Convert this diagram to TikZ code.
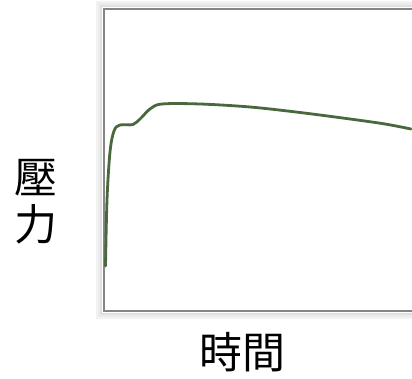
\documentclass[tikz,border=0pt]{standalone}
\usepackage{fontspec}
\newfontfamily\cjk{Noto Sans CJK TC}
\begin{document}
\begin{tikzpicture}[x=1pt,y=-1pt,
  frameline/.style={draw=black!48, line width=1.6pt},
  shadowline/.style={draw=black!25, line width=#1, opacity=0.25},
  curve/.style={draw=green!25!black!75!gray, color={rgb,255:red,74;green,104;blue,62}, line width=2.8pt, line cap=round, line join=round},
  lab/.style={font=\cjk\fontsize{43}{47}\selectfont, inner sep=0pt, align=center}]
\clip (0,0) rectangle (412,379);
\fill[white] (0,0) rectangle (412,379);
% soft shadow
\foreach \d/\o in {7/0.05,5/0.08,3/0.12} {
  \draw[black, line width=2pt, opacity=\o] (104-\d,311+\d) -- (104-\d,9-\d) -- (420,9-\d);
  \draw[black, line width=2pt, opacity=\o] (104-\d,311+\d) -- (420,311+\d);
}
\coordinate (tl) at (104,9);
\coordinate (bl) at (104,311);
\coordinate (tr) at (420,9);
\coordinate (br) at (420,311);
\draw[frameline] (tr) -- (tl) -- (bl) -- (br);
\draw[curve] plot[smooth, tension=0.55] coordinates {
  (105.5,266) (107,200) (110,152) (114,131) (120,125) (133,124.5)
  (141,118) (150,109) (162,104) (200,104) (250,107) (300,112.5)
  (350,119) (385,124) (411,129)};
\node[lab] (ylab) at (36,202) {壓\\力};
\node[lab] (xlab) at (242,352) {時間};
\end{tikzpicture}
\end{document}
